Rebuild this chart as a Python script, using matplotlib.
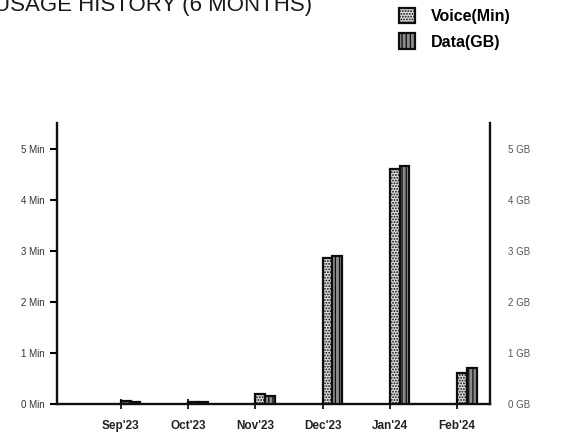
import matplotlib
matplotlib.use("Agg")
import matplotlib.pyplot as plt
import numpy as np
from matplotlib.patches import Patch

plt.rcParams['font.family'] = ['Liberation Sans', 'DejaVu Sans']
plt.rcParams['hatch.linewidth'] = 0.9

months = ["Sep'23", "Oct'23", "Nov'23", "Dec'23", "Jan'24", "Feb'24"]
voice_min = [0.05, 0.04, 0.2, 2.85, 4.6, 0.6]
data_gb = [0.04, 0.03, 0.15, 2.9, 4.65, 0.7]
left_ticks = [0, 1, 2, 3, 4, 5]
left_labels = ["0 Min", "1 Min", "2 Min", "3 Min", "4 Min", "5 Min"]
right_ticks = [0, 1, 2, 3, 4, 5]
right_labels = ["0 GB", "1 GB", "2 GB", "3 GB", "4 GB", "5 GB"]

fig = plt.figure(figsize=(5.74, 4.4), dpi=100)
ax = fig.add_axes([57/574, 1-404/440, (490-57)/574, (404-123)/440])
ax2 = ax.twinx()

x = np.arange(len(months))
w = 0.145
voice_style = dict(facecolor='#dcdcdc', edgecolor='#0d0d0d', hatch='......', linewidth=1.6)
data_style = dict(facecolor='#8c8c8c', edgecolor='#0d0d0d', hatch='||||', linewidth=1.6)
ax.bar(x, voice_min, width=w, align='edge', **voice_style)
ax2.bar(x + w, data_gb, width=w, align='edge', **data_style)

ax.set_xlim(-0.95, 5.49)
ax.set_ylim(0, 5.5)
ax2.set_ylim(0, 5.5)

ax.set_xticks(x)
ax.set_xticklabels(months, fontsize=8.5, fontweight='bold', color='#222222')
ax.set_yticks(left_ticks)
ax.set_yticklabels(left_labels, fontsize=7, color='#333333')
ax2.set_yticks(right_ticks)
ax2.set_yticklabels(right_labels, fontsize=7, color='#555555')

ax.tick_params(axis='y', direction='out', length=5, width=1.5, pad=4)
ax.tick_params(axis='x', direction='inout', length=7, width=1.2, pad=8)
ax2.tick_params(axis='y', length=0, pad=13)

for a in (ax, ax2):
    a.spines['top'].set_visible(False)
    for s in ('left', 'right', 'bottom'):
        a.spines[s].set_linewidth(1.7)
        a.spines[s].set_color('#111111')
ax.spines['right'].set_visible(False)
ax2.spines['left'].set_visible(False)
ax2.spines['bottom'].set_visible(False)

fig.text(-0.01, 1 - 11/440, "USAGE HISTORY (6 MONTHS)", fontsize=16,
         color='#1a1a1a', va='baseline', ha='left')

handles = [Patch(label='Voice(Min)', **voice_style), Patch(label='Data(GB)', **data_style)]
fig.legend(handles=handles, loc='upper left', bbox_to_anchor=(385/574, 1.015),
           frameon=False, handlelength=0.95, handleheight=1.1, handletextpad=1.0,
           labelspacing=0.6, prop={'size': 11.5, 'weight': 'bold'})

fig.savefig("out.png", dpi=100)
